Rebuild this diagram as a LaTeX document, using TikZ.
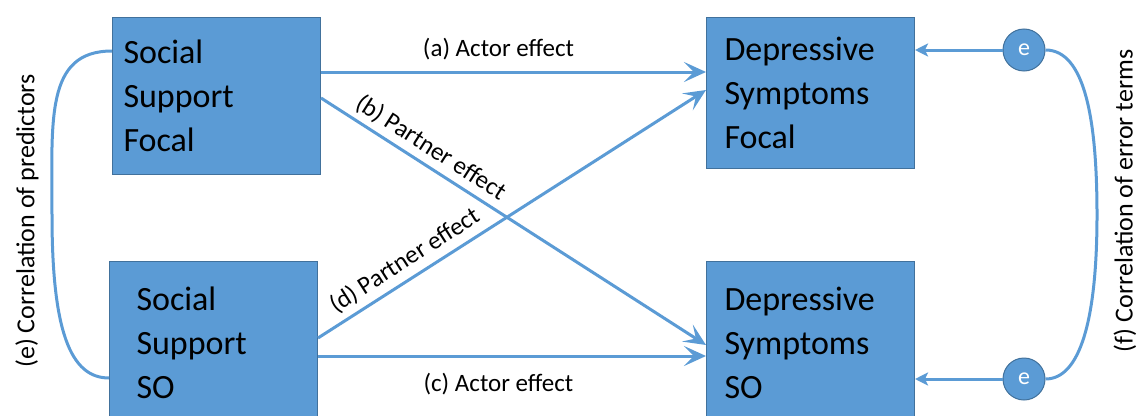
\documentclass[tikz,border=0pt]{standalone}
\usepackage{fontspec}
\setmainfont{Carlito}
\usetikzlibrary{arrows.meta,calc}
\definecolor{boxblue}{HTML}{5B9BD5}
\definecolor{boxedge}{HTML}{41719C}
\begin{document}
\begin{tikzpicture}[x=1pt,y=-1pt,
  box/.style={draw=boxedge, line width=1pt, fill=boxblue, inner sep=0pt, align=left,
    minimum width=208pt, font=\fontsize{34}{44}\selectfont, anchor=north west},
  conn/.style={draw=boxblue, line width=3pt},
  bigarrow/.style={conn, -{Stealth[length=22pt,width=20pt,inset=10pt]}},
  smallarrow/.style={conn, -{Stealth[length=13pt,width=13pt,inset=3pt]}},
  lab/.style={font=\fontsize{25}{30}\selectfont, inner sep=0pt},
  vlab/.style={font=\fontsize{26}{30}\selectfont, inner sep=0pt, rotate=90},
  errc/.style={circle, draw=boxedge, line width=1pt, fill=boxblue, minimum size=42pt,
    inner sep=0pt, text=white, font=\fontsize{24}{28}\selectfont}]
\useasboundingbox (0,0) rectangle (1139,415);
\clip (0,0) rectangle (1139,415);

% boxes
\node[box, text width=186pt, minimum height=157pt] (sf) at (112,17) {Social\\Support\\Focal};
\node[box, text width=154pt, minimum height=162pt] (ss) at (109,261) {Social\\Support\\SO};
\node[box, text width=172pt, minimum height=151pt] (df) at (706,17) {Depressive\\Symptoms\\Focal};
\node[box, text width=172pt, minimum height=162pt] (ds) at (706,261) {Depressive\\Symptoms\\SO};

% error terms
\node[errc] (e1) at (1024,50) {e};
\node[errc] (e2) at (1024,379) {e};

% actor and partner effects
\draw[bigarrow] ($(sf.north east)+(0,55)$) --
  node[lab, pos=.461, anchor=base, yshift=16pt] {(a) Actor effect}
  ($(df.north west)+(0,55)$);
\draw[bigarrow] ($(sf.north east)+(0,81)$) --
  node[lab, pos=.261, sloped, above=5pt] {(b) Partner effect}
  ($(ds.north west)+(0,84)$);
\draw[bigarrow] ($(ss.north east)+(0,77)$) --
  node[lab, pos=.25, sloped, above=6pt] {(d) Partner effect}
  ($(df.north west)+(0,73)$);
\draw[bigarrow] ($(ss.north east)+(0,95)$) --
  node[lab, pos=.465, anchor=base, yshift=-35pt] {(c) Actor effect}
  ($(ds.north west)+(0,95)$);

% error arrows
\draw[smallarrow] (e1) -- (df.east |- e1);
\draw[smallarrow] (e2) -- (ds.east |- e2);

% correlations
\coordinate (pmid) at (52,215);
\coordinate (emid) at (1097,215);
\draw[conn] ($(sf.north west)+(0,34)$) .. controls (45,51) and (52,120) .. (pmid)
  .. controls (52,330) and (70,378) .. ($(ss.north west)+(0,117)$);
\draw[conn] (e1.east) .. controls (1085,50) and (1097,120) .. (emid)
  .. controls (1097,320) and (1080,379) .. (e2.east);

\node[vlab] (pl) at (27,221) {(e) Correlation of predictors};
\node[vlab] (el) at (1125,201) {(f) Correlation of error terms};
\end{tikzpicture}
\end{document}
